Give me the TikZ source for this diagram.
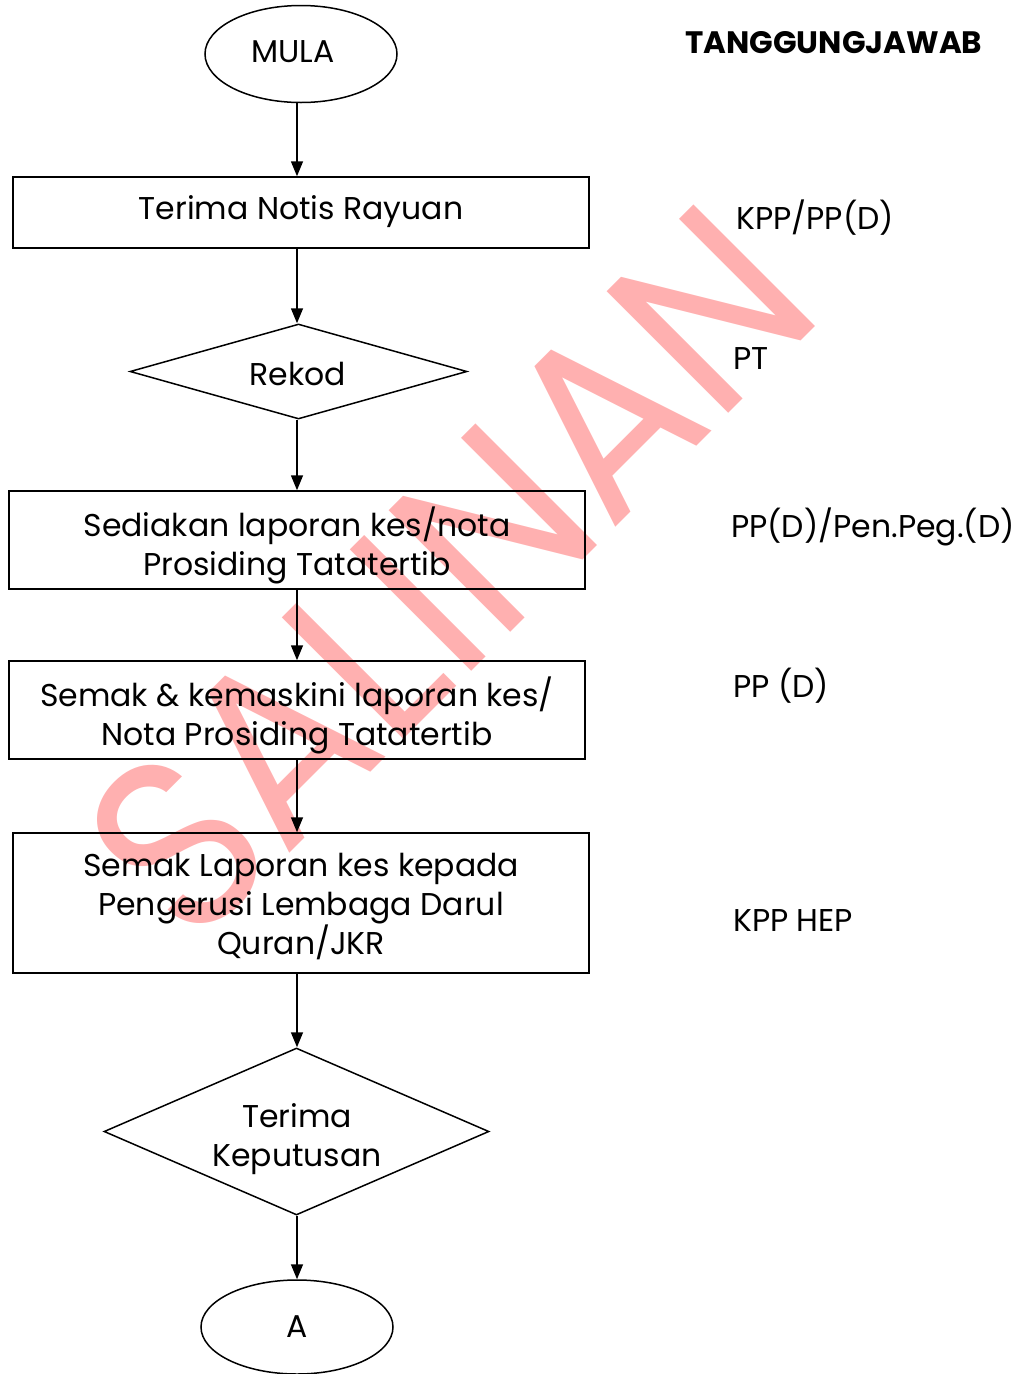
\documentclass[tikz,border=0pt]{standalone}
\usepackage{fontspec}
\setmainfont{Poppins}
\usetikzlibrary{arrows.meta,shapes.geometric}

\definecolor{stamp}{RGB}{255,176,176}

\begin{document}
\begin{tikzpicture}[x=1pt,y=-1pt,
  txt/.style={font=\fontsize{31.5}{39}\selectfont, inner sep=0pt},
  lines/.style={txt, align=center},
  stepbox/.style={draw, line width=1.5pt, minimum width=576pt, inner sep=0pt},
  decision/.style={draw, diamond, line width=1.5pt, inner sep=0pt},
  terminal/.style={txt, draw, ellipse, line width=1.5pt, minimum width=192pt, minimum height=97pt},
  flow/.style={-{Triangle[length=15pt,width=12pt]}, line width=1.5pt},
  resp/.style={txt, anchor=base west}
]
\useasboundingbox (0,0) rectangle (1019,1374);

% copy stamp behind the chart
\node[rotate=45, yscale=1.1, text=stamp, inner sep=0pt, font=\fontsize{224}{224}\selectfont] (stampmark) at (449,572) {SALINAN};

% main axis of the flow
\coordinate (axis) at (297,0);

% flow chart frames
\node[terminal] (mula) at (301,54) {};
\node[stepbox, minimum height=71pt] (notis) at (301,212.5) {};
\node[decision, minimum width=337pt, minimum height=95pt] (rekod) at (298.5,371.5) {};
\node[stepbox, minimum height=98pt] (sedia) at (297,540) {};
\node[stepbox, minimum height=98pt] (semak) at (297,710) {};
\node[stepbox, minimum height=140pt] (pengerusi) at (301,903) {};
\node[decision, minimum width=385pt, minimum height=167pt] (putus) at (296.5,1131.5) {};
\node[terminal, minimum height=94pt] (conA) at (297,1327) {A};

% step texts
\node[txt] (mulatxt) at (293,52) {MULA};
\node[txt] (notistxt) at (301,212) {Terima Notis Rayuan};
\node[txt] (rekodtxt) at (298,374) {Rekod};
\node[lines] (sediatxt) at (297,545) {Sediakan laporan kes/nota\\Prosiding Tatatertib};
\node[lines] (semaktxt) at (297,715) {Semak \& kemaskini laporan kes/\\Nota Prosiding Tatatertib};
\node[lines] (pengerusitxt) at (301,907) {Semak Laporan kes kepada\\Pengerusi Lembaga Darul\\Quran/JKR};
\node[lines] (putustxt) at (297,1139) {Terima\\Keputusan};

% connectors
\draw[flow] (mula.south -| axis) -- (notis.north -| axis);
\draw[flow] (notis.south -| axis) -- (rekod.north -| axis);
\draw[flow] (rekod.south -| axis) -- (sedia.north -| axis);
\draw[flow] (sedia.south -| axis) -- (semak.north -| axis);
\draw[flow] (semak.south -| axis) -- (pengerusi.north -| axis);
\draw[flow] (pengerusi.south -| axis) -- (putus.north -| axis);
\draw[flow] (putus.south -| axis) -- (conA.north -| axis);

% responsibility column
\node[resp, font=\bfseries\fontsize{31}{34}\selectfont] (head) at (685,53) {TANGGUNGJAWAB};
\node[resp] (r1) at (736,229) {KPP/PP(D)};
\node[resp] (r2) at (733,369) {PT};
\node[resp] (r3) at (731,537) {PP(D)/Pen.Peg.(D)};
\node[resp] (r4) at (733,697) {PP (D)};
\node[resp] (r5) at (733,931) {KPP HEP};
\end{tikzpicture}
\end{document}
